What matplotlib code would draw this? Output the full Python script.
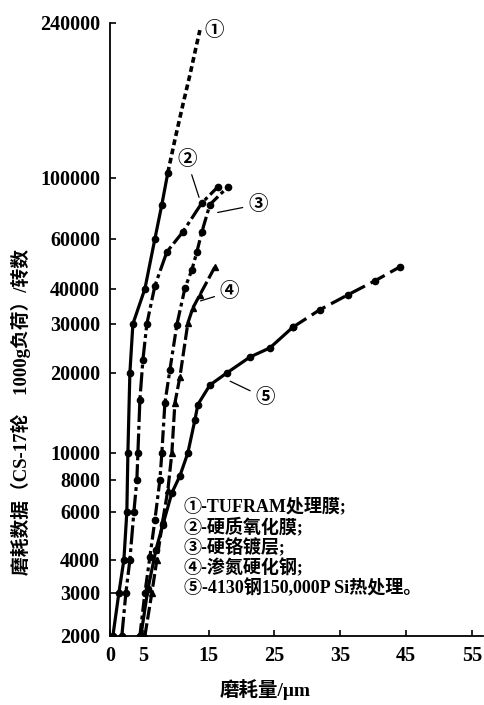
import numpy as np
import matplotlib
matplotlib.use('Agg')
import matplotlib.pyplot as plt

plt.rcParams['font.family'] = ['Liberation Serif', 'Noto Sans CJK SC']
plt.rcParams['axes.unicode_minus'] = False

# 磨耗量 (μm) 与 转数
c1_x = [0.46, 1.37, 2.13, 2.58, 2.74, 3.04, 3.50, 5.32, 6.84, 7.90, 8.81]
c1_y = [2000, 3000, 4000, 6000, 10000, 20000, 30000, 40000, 60000, 80000, 103000]
c1_top_x = [8.81, 9.88, 11.09, 12.16, 13.07, 13.68]
c1_top_y = [103000, 124000, 151000, 178600, 208000, 230000]

c2_x = [1.82, 2.43, 3.04, 3.65, 4.10, 4.26, 4.56, 5.02, 5.62, 6.84, 8.66, 11.09, 13.98, 16.41]
c2_y = [2000, 3000, 4000, 6000, 8000, 10000, 15800, 22300, 30000, 41000, 54000, 63600, 81100, 92700]

c3_x = [4.56, 5.32, 6.08, 6.84, 7.60, 7.90, 8.36, 9.12, 10.18, 11.40, 12.46, 13.22, 13.98, 15.20, 17.93]
c3_y = [2000, 3000, 4100, 5600, 8000, 10000, 15400, 20500, 29800, 40200, 46700, 54000, 63600, 80000, 92700]

c4_x = [5.32, 6.38, 7.14, 8.05, 8.81, 9.42, 9.88, 10.64, 11.85, 12.61, 13.68, 15.96]
c4_y = [2000, 3000, 4000, 5600, 7300, 10000, 15400, 19300, 30200, 34200, 38100, 47800]

c5_x = [4.71, 5.78, 6.99, 8.05, 9.42, 10.64, 11.85, 12.92, 13.37, 15.20, 17.78, 21.28, 24.32, 27.81]
c5_y = [2000, 3100, 4350, 5380, 7120, 8270, 10000, 13300, 15200, 18000, 20000, 22800, 24600, 29200]
c5_top_x = [27.81, 31.91, 36.17, 40.27, 44.07]
c5_top_y = [29200, 33700, 38100, 42700, 47800]

y_ticks = [2000, 3000, 4000, 6000, 8000, 10000, 20000, 30000, 40000, 60000, 100000, 240000]
x_ticks = [0, 5, 15, 25, 35, 45, 55]

legend_lines = ['①-TUFRAM处理膜;', '②-硬质氧化膜;', '③-硬铬镀层;', '④-渗氮硬化钢;',
                '⑤-4130钢150,000P Si热处理。']

# 纵轴刻度间距不均匀, 按对数值分段插值
tick_logs = np.log10(y_ticks)
tick_pos = np.array([0, 43, 76, 124, 156, 183, 263, 312, 347, 397, 458, 613.3])


def fwd(v):
    v = np.clip(np.asarray(v, dtype=float), 1e-9, None)
    return np.interp(np.log10(v), tick_logs, tick_pos)


def inv(p):
    return 10 ** np.interp(p, tick_pos, tick_logs)


fig = plt.figure(figsize=(4.84, 7.05), dpi=100)
ax = fig.add_axes([0.227, 0.098, 0.771, 0.870])
ax.set_yscale('function', functions=(fwd, inv))
ax.set_xlim(0, 56.7)
ax.set_ylim(2000, 240000)

kw = dict(color='black', marker='o', ms=4.5, lw=2.3)
ax.plot(c1_x, c1_y, ls='-', **kw)
ax.plot(c1_top_x, c1_top_y, color='black', lw=2.6, ls=(0, (1.6, 1.0)))
ax.plot(c2_x, c2_y, ls=(0, (6, 1.2, 1.2, 1.2)), **kw)
ax.plot(c3_x, c3_y, ls=(0, (4, 1.2, 1.2, 1.2)), **kw)
ax.plot(c4_x, c4_y, color='black', lw=2.3, ls=(0, (4, 1.2)), marker='^', ms=4.5)
ax.plot(c5_x, c5_y, ls='-', **kw)
ax.plot(c5_top_x, c5_top_y, ls=(0, (5, 2)), **kw)

# 曲线编号
lbl = dict(fontsize=14, ha='center', va='center', fontweight='bold',
           family=['Noto Sans CJK SC'])
arr = dict(arrowstyle='-', color='black', lw=0.9)
ax.text(15.8, 230000, '①', **lbl)
ax.annotate('②', xy=(13.68, 83100), xytext=(11.7, 110700), arrowprops=arr, **lbl)
ax.annotate('③', xy=(15.96, 74500), xytext=(22.5, 80000), arrowprops=arr, **lbl)
ax.annotate('④', xy=(13.37, 36000), xytext=(18.2, 39000), arrowprops=arr, **lbl)
ax.annotate('⑤', xy=(17.9, 18800), xytext=(23.6, 16100), arrowprops=arr, **lbl)

for i, s in enumerate(legend_lines):
    fig.text(184 / 484, 1 - (506 + i * 20.5) / 705, s, fontsize=13, fontweight='bold',
             va='center', ha='left')

ax.set_yticks(y_ticks)
ax.set_yticklabels([str(t) for t in y_ticks])
ax.set_xticks(x_ticks)
ax.minorticks_off()
ax.tick_params(axis='both', direction='in', length=4, width=1.2, labelsize=14.5)
ax.tick_params(axis='y', pad=7)
ax.tick_params(axis='x', pad=7)
for t in ax.get_xticklabels() + ax.get_yticklabels():
    t.set_fontweight('bold')

for side in ['top', 'right']:
    ax.spines[side].set_visible(False)
for side in ['left', 'bottom']:
    ax.spines[side].set_linewidth(1.3)

fig.text(265 / 484, 1 - 690 / 705, '磨耗量/μm', fontsize=14, fontweight='bold',
         ha='center', va='center')
fig.text(21 / 484, 1 - 412 / 705, '磨耗数据（CS-17轮　1000g负荷）/转数', rotation=90,
         fontsize=13.5, fontweight='bold', ha='center', va='center')

fig.savefig('out.png', dpi=100)
